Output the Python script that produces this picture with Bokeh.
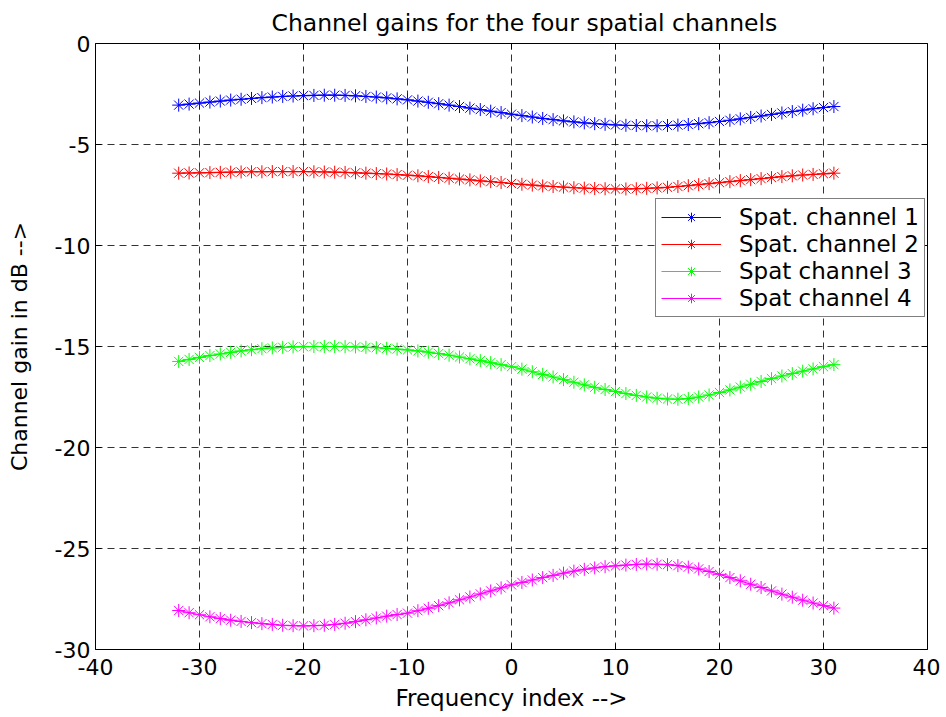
from bokeh.plotting import figure
from bokeh.models import FixedTicker, Legend, LegendItem, Range1d, LinearAxis
from bokeh.embed import file_html
from bokeh.resources import INLINE

freq_index = list(range(-32, 32))

spat_channel_1 = [
    -3.05, -3.00, -2.95, -2.90, -2.85, -2.80, -2.76, -2.72, -2.68, -2.65, -2.62, -2.60, -2.58, -2.57, -2.56, -2.56,
    -2.57, -2.59, -2.62, -2.65, -2.69, -2.74, -2.79, -2.85, -2.91, -2.98, -3.05, -3.12, -3.20, -3.27, -3.35, -3.42,
    -3.50, -3.57, -3.64, -3.71, -3.77, -3.83, -3.88, -3.93, -3.97, -4.00, -4.03, -4.05, -4.06, -4.07, -4.07, -4.06,
    -4.04, -4.01, -3.97, -3.92, -3.86, -3.80, -3.73, -3.66, -3.59, -3.51, -3.44, -3.37, -3.30, -3.23, -3.17, -3.12,
]
spat_channel_2 = [
    -6.42, -6.41, -6.40, -6.39, -6.38, -6.37, -6.36, -6.35, -6.35, -6.34, -6.34, -6.34, -6.34, -6.35, -6.36, -6.37,
    -6.38, -6.40, -6.42, -6.44, -6.46, -6.49, -6.52, -6.55, -6.59, -6.63, -6.67, -6.71, -6.75, -6.80, -6.84, -6.88,
    -6.93, -6.97, -7.01, -7.05, -7.08, -7.11, -7.14, -7.16, -7.18, -7.19, -7.20, -7.20, -7.19, -7.17, -7.15, -7.12,
    -7.08, -7.04, -6.99, -6.94, -6.89, -6.84, -6.79, -6.74, -6.69, -6.64, -6.59, -6.55, -6.51, -6.48, -6.45, -6.42,
]
spat_channel_3 = [
    -15.74, -15.64, -15.54, -15.45, -15.37, -15.29, -15.22, -15.16, -15.11, -15.07, -15.04, -15.02, -15.01, -15.00, -15.00, -15.00,
    -15.01, -15.02, -15.04, -15.06, -15.09, -15.13, -15.17, -15.22, -15.28, -15.35, -15.43, -15.52, -15.61, -15.70, -15.80, -15.90,
    -16.00, -16.12, -16.25, -16.38, -16.51, -16.64, -16.77, -16.90, -17.02, -17.13, -17.23, -17.33, -17.42, -17.50, -17.56, -17.60,
    -17.61, -17.58, -17.50, -17.40, -17.28, -17.15, -17.01, -16.87, -16.73, -16.59, -16.46, -16.34, -16.22, -16.11, -16.00, -15.90,
]
spat_channel_4 = [
    -28.07, -28.18, -28.28, -28.38, -28.47, -28.55, -28.61, -28.67, -28.72, -28.76, -28.80, -28.82, -28.83, -28.82, -28.80, -28.76,
    -28.70, -28.62, -28.53, -28.44, -28.35, -28.27, -28.20, -28.08, -27.96, -27.83, -27.69, -27.54, -27.40, -27.25, -27.10, -26.95,
    -26.80, -26.68, -26.56, -26.44, -26.33, -26.22, -26.12, -26.03, -25.96, -25.90, -25.86, -25.82, -25.79, -25.77, -25.78, -25.80,
    -25.85, -25.92, -26.01, -26.14, -26.28, -26.44, -26.60, -26.77, -26.93, -27.10, -27.26, -27.41, -27.56, -27.70, -27.83, -27.95,
]

series_names = ["Spat. channel 1", "Spat. channel 2", "Spat channel 3", "Spat channel 4"]
series_values = [spat_channel_1, spat_channel_2, spat_channel_3, spat_channel_4]
series_colors = ["#0000ff", "#ff0000", "#00ff00", "#ff00ff"]

x_ticks = [-40, -30, -20, -10, 0, 10, 20, 30, 40]
y_ticks = [-30, -25, -20, -15, -10, -5, 0]

FONT = "DejaVu Sans"

p = figure(frame_width=832, frame_height=606, output_backend="svg", toolbar_location=None,
           x_range=Range1d(-40, 40), y_range=Range1d(-30, 0),
           title="Channel gains for the four spatial channels",
           min_border_left=95, min_border_right=13, min_border_top=42, min_border_bottom=60)

p.title.align = "left"
p.title.offset = 176
p.title.text_font = FONT
p.title.text_font_size = "23.5px"
p.title.text_font_style = "normal"
p.title.text_color = "black"
p.title.standoff = 13

p.outline_line_color = "black"
p.outline_line_width = 1
p.background_fill_color = "white"
p.border_fill_color = "white"

p.add_layout(LinearAxis(), "right")
p.add_layout(LinearAxis(), "above")

for ax in p.axis:
    ax.axis_line_color = None
    ax.major_tick_in = 6
    ax.major_tick_out = 0
    ax.major_tick_line_color = "black"
    ax.minor_tick_line_color = None
    ax.major_label_text_font = FONT
    ax.major_label_text_font_size = "22px"
    ax.major_label_text_color = "black"
    ax.axis_label_text_font = FONT
    ax.axis_label_text_font_size = "23px"
    ax.axis_label_text_font_style = "normal"
    ax.axis_label_text_color = "black"

for ax in p.xaxis:
    ax.ticker = FixedTicker(ticks=x_ticks)
    ax.major_label_overrides = {t: str(t) for t in x_ticks}
for ax in p.yaxis:
    ax.ticker = FixedTicker(ticks=y_ticks)
    ax.major_label_overrides = {t: str(t) for t in y_ticks}

for ax in (p.right[0], p.above[0]):
    ax.major_label_overrides = {}
    ax.major_label_text_font_size = "1px"
    ax.major_label_text_color = None
    ax.major_label_standoff = 0

p.below[0].axis_label = "Frequency index -->"
p.left[0].axis_label = "Channel gain in dB -->"
p.left[0].axis_label_text_font_size = "22px"
p.below[0].major_label_standoff = 9
p.left[0].major_label_standoff = 5
p.below[0].axis_label_standoff = 7
p.left[0].axis_label_standoff = 20

for g in (p.xgrid[0], p.ygrid[0]):
    g.grid_line_color = "black"
    g.grid_line_alpha = 0.8
    g.grid_line_dash = "7 5"
    g.grid_line_width = 1

items = []
for name, vals, col in zip(series_names, series_values, series_colors):
    ln = p.line(freq_index, vals, line_color=col, line_width=1.2)
    mk = p.scatter(freq_index, vals, marker="asterisk", size=13, line_color=col, line_width=1)
    items.append(LegendItem(label=name, renderers=[ln, mk]))

legend = Legend(items=items, location=(560, 332))
legend.label_text_font = FONT
legend.label_text_font_size = "23px"
legend.label_text_color = "black"
legend.glyph_width = 60
legend.glyph_height = 24
legend.label_height = 24
legend.spacing = 1
legend.padding = 5
legend.margin = 0
legend.label_standoff = 18
legend.border_line_color = "black"
legend.border_line_width = 1
legend.background_fill_alpha = 1
p.add_layout(legend, "center")

open("out.html", "w").write(file_html(p, INLINE))
